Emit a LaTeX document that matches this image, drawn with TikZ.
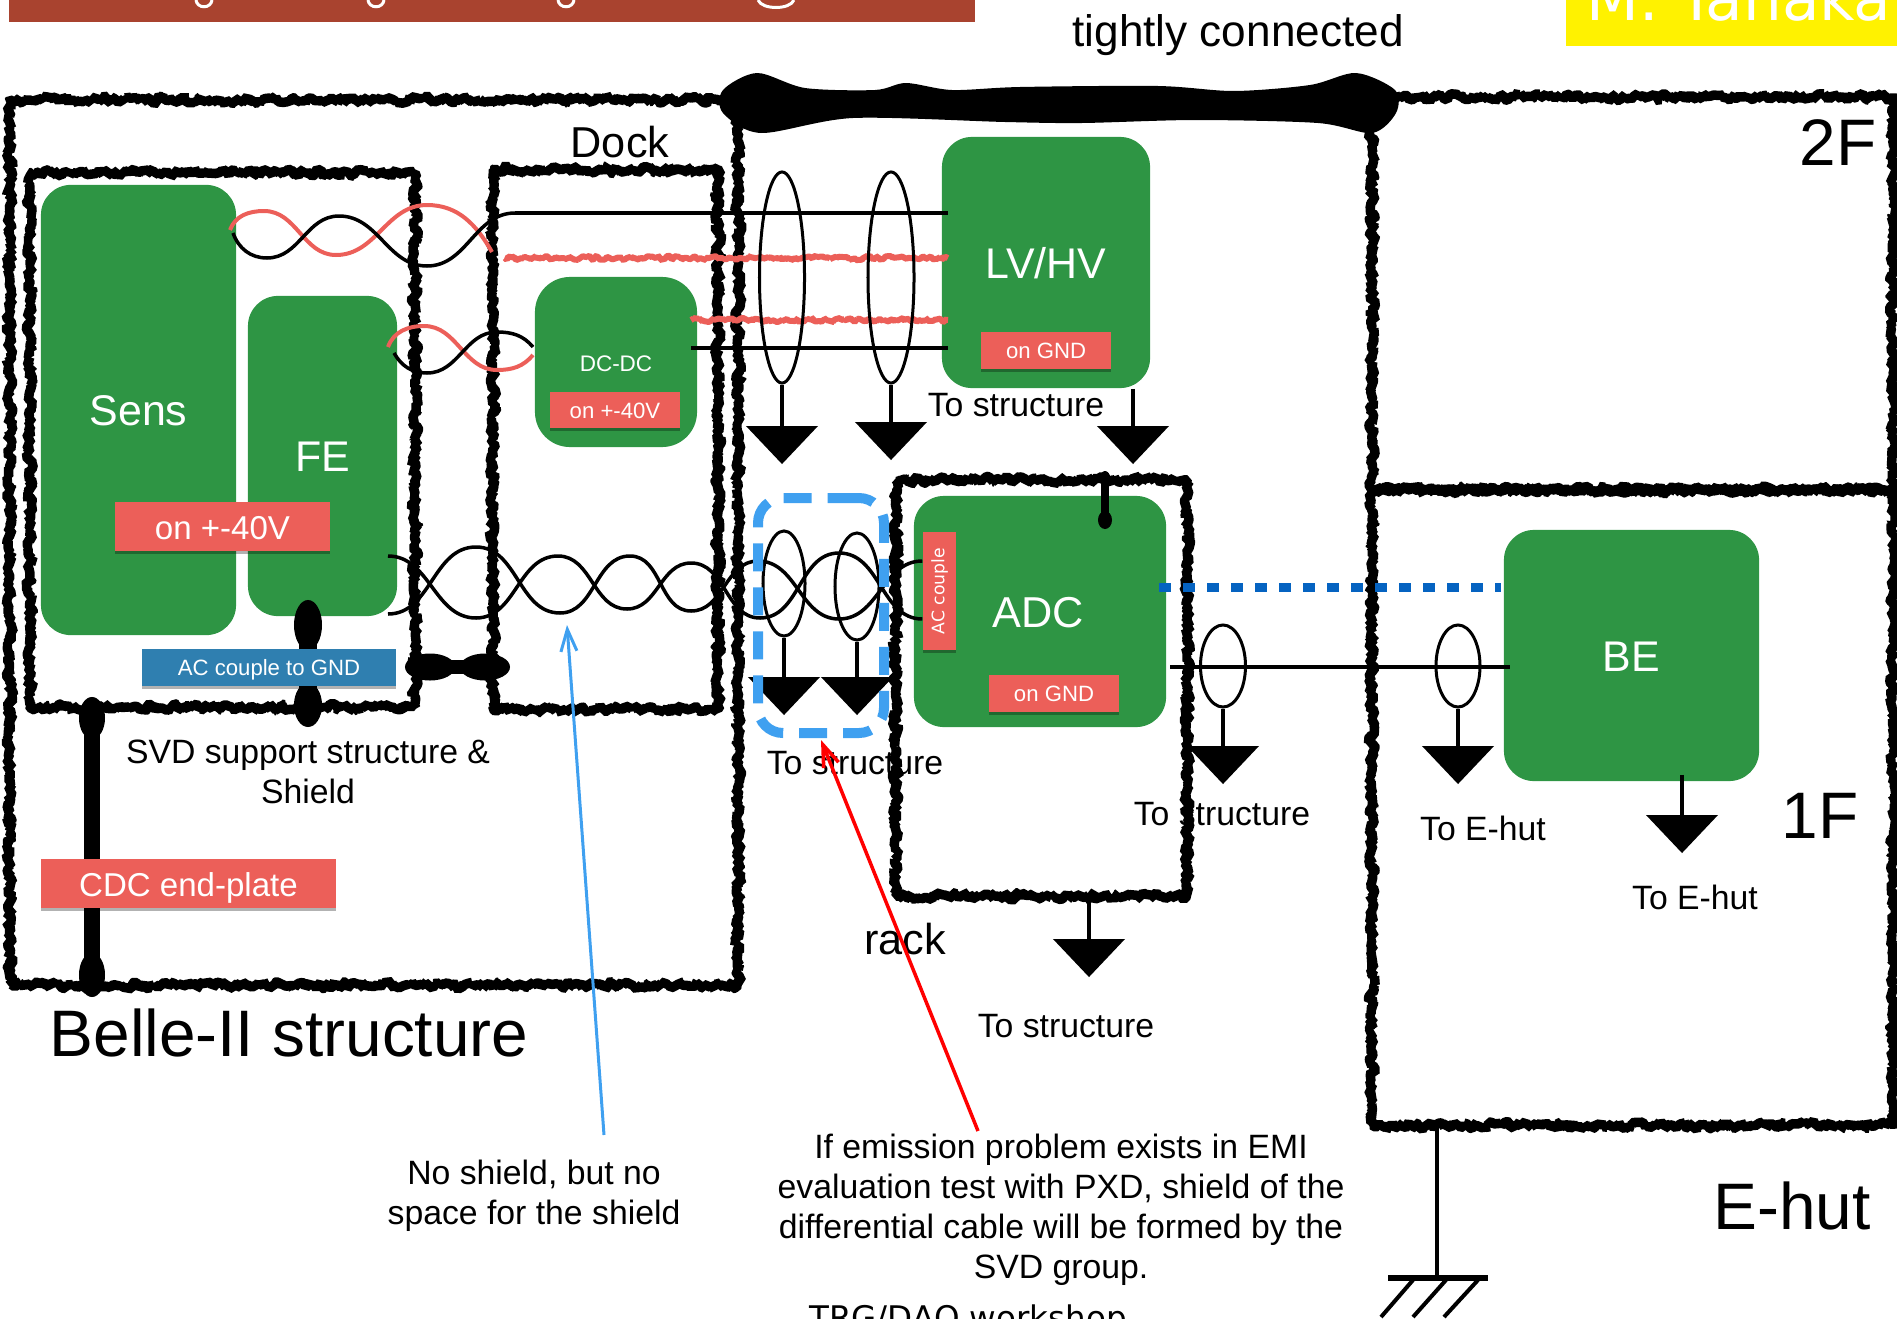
\documentclass[tikz,border=0pt]{standalone}
\usepackage{fontspec}
\setmainfont{Liberation Sans}
\newfontfamily\djv{DejaVu Sans}
\usetikzlibrary{arrows.meta,shapes.geometric,decorations.pathmorphing,shadows}
\definecolor{grnc}{HTML}{2E9544}
\definecolor{tagc}{HTML}{EC5F59}
\definecolor{blc}{HTML}{2F7FB0}
\definecolor{skyc}{HTML}{3FA0F0}
\definecolor{dotc}{HTML}{0563C1}
\definecolor{barc}{HTML}{A9432F}
\tikzset{
  grn/.style={rectangle,rounded corners=3mm,fill=grnc,text=white,inner sep=0pt,font=\fontsize{12.2}{14}\selectfont,text height=9pt,text depth=0pt},
  tag/.style={rectangle,fill=tagc,text=white,inner sep=0pt,drop shadow={shadow xshift=0mm,shadow yshift=-.3mm,fill=black,opacity=.3}},
  tagb/.style={tag,fill=blc},
  rgh/.style={rectangle,draw=black,line width=.95mm,line join=bevel,inner sep=0pt,decorate,decoration={random steps,segment length=.6pt,amplitude=1pt}},
  shd/.style={ellipse,draw=black,line width=.3mm,inner sep=0pt},
  gnd/.style={isosceles triangle,isosceles triangle stretches,shape border rotate=-90,fill=black,inner sep=0pt,outer sep=0pt,minimum width=7.2mm,minimum height=3.8mm,anchor=lower side},
  wre/.style={draw=black,line width=.35mm},
  cbl/.style={draw=black,line width=.4mm},
  twk/.style={draw=black,line width=.35mm},
  twr/.style={draw=tagc,line width=.4mm},
  nsy/.style={draw=tagc,line width=.6mm,line join=bevel,decorate,decoration={random steps,segment length=.6pt,amplitude=.6pt}},
  bulb/.style={ellipse,fill=black,inner sep=0pt,outer sep=0pt},
  strap/.style={draw=black},
  hatch/.style={draw=black,line width=.4mm},
  lb/.style={font=\fontsize{9.6}{11.4}\selectfont,align=center,inner sep=0pt},
  lbm/.style={font=\fontsize{12.3}{14}\selectfont,inner sep=0pt},
  lbl/.style={font=\fontsize{18.7}{20}\selectfont,inner sep=0pt},
  lbs/.style={font=\fontsize{6.3}{8}\selectfont,text height=4.6pt,text depth=0pt},
  lbt/.style={font=\fontsize{9.4}{11}\selectfont,text height=7.6pt,text depth=0pt},
}
\begin{document}
\begin{tikzpicture}[x=.01cm,y=-.01cm]
\useasboundingbox (0,0) rectangle (1897,1318);
\clip (0,0) rectangle (1897,1318);
\pgfmathsetseed{7}
% ---- cropped header bars
\fill[barc] (9,0) rectangle (975,22);
\draw[white,line width=.3mm] (196,0) .. controls (197,9) and (211,9) .. (212,0)
  (368,0) .. controls (369,9) and (383,9) .. (384,0)
  (558,0) .. controls (559,9) and (573,9) .. (574,0)
  (758,0) .. controls (762,10) and (790,10) .. (794,0);
\fill[yellow] (1566,0) rectangle (1897,46);
\node[anchor=base west,inner sep=0pt,text=white,font=\djv\fontsize{17.4}{19}\selectfont] (auth) at (1586,20) {M. Tanaka};
% ---- structures
\node[rgh,minimum width=72.8cm/10,minimum height=88.5cm/10] (belle) at (374,542.5) {};
\node[rgh,minimum width=38.5cm/10,minimum height=53.4cm/10] (svd) at (222.5,440) {};
\node[rgh,minimum width=22.5cm/10,minimum height=53.9cm/10] (dock) at (605.5,439.5) {};
\node[rgh,minimum width=29.1cm/10,minimum height=41.6cm/10] (rack) at (1041.5,688) {};
\node[rgh,minimum width=52.1cm/10,minimum height=39.3cm/10] (ftwo) at (1632.5,293.5) {};
\node[rgh,minimum width=52.1cm/10,minimum height=63.5cm/10] (fone) at (1632.5,807.5) {};
\fill plot[smooth cycle,tension=.5] coordinates {(757,73) (805,88) (875,90) (906,83) (952,90)
  (1020,87) (1158,86) (1234,91) (1310,85) (1356,73) (1395,90) (1396,113) (1372,133) (1318,123)
  (1196,120) (1082,123) (1005,122) (853,118) (761,133) (723,113) (723,90)};
% ---- straps under the boards
\node[bulb,minimum width=2.6mm,minimum height=4.2mm] (cdca) at (92,718) {};
\node[bulb,minimum width=2.6mm,minimum height=4.4mm] (cdcb) at (92,975) {};
\draw[strap,line width=1.5mm] (cdca.center)--(cdcb.center);
\node[bulb,minimum width=5mm,minimum height=2.7mm] (lnka) at (430,667) {};
\node[bulb,minimum width=5mm,minimum height=2.7mm] (lnkb) at (485,667) {};
\draw[strap,line width=1.4mm] (lnka.center)--(lnkb.center);
% ---- boards
\node[grn,minimum width=19.5mm,minimum height=45mm] (sens) at (138.5,410) {Sens};
\node[grn,minimum width=14.9mm,minimum height=32mm] (fe) at (322.5,456) {FE};
\node[grn,rounded corners=3.5mm,minimum width=16.2mm,minimum height=17mm,font=\fontsize{6.4}{8}\selectfont,text height=5.6pt] (dcdc) at (616,362) {DC-DC};
\node[grn,minimum width=20.8mm,minimum height=25.1mm] (lvhv) at (1046,262.5) {LV/HV};
\node[grn,minimum width=25.2mm,minimum height=23.1mm] (adc) at (1040,611.5) {};
\node[lbm,text=white,text height=9pt,text depth=0pt] (adclb) at (1038,612) {ADC};
\node[grn,minimum width=25.5mm,minimum height=25.1mm] (be) at (1631.5,655.5) {BE};
% ---- strap on the fe board
\node[bulb,minimum width=2.8mm,minimum height=5mm] (fea) at (308,625) {};
\node[bulb,minimum width=2.8mm,minimum height=4.4mm] (feb) at (308,705) {};
\draw[strap,line width=1.8mm] (fea.center)--(feb.center);
% ---- tags
\node[tag,minimum width=21.5mm,minimum height=4.9mm,lbt] (tgsens) at (222.5,526.5) {on +-40V};
\node[tag,minimum width=13mm,minimum height=3.6mm,lbs] (tgdc) at (615,410) {on +-40V};
\node[tag,minimum width=13mm,minimum height=3.7mm,lbs] (tglv) at (1046,350.5) {on GND};
\node[tag,minimum width=13mm,minimum height=3.7mm,lbs] (tgadc) at (1054,693.5) {on GND};
\node[tag,rotate=90,minimum width=11.8mm,minimum height=3.3mm,font=\djv\fontsize{4.9}{6}\selectfont] (tgac) at (939.5,591) {AC couple};
\node[tag,minimum width=29.5mm,minimum height=4.9mm,lbt] (tgcdc) at (188.5,883.5) {CDC end-plate};
\node[tagb,minimum width=25.4mm,minimum height=3.7mm,lbs] (tgac2) at (269,667.5) {AC couple to GND};
% ---- adc strap
\node[bulb,minimum width=1mm,minimum height=1.4mm] (adca) at (1105,478) {};
\node[bulb,minimum width=1.4mm,minimum height=1.8mm] (adcb) at (1105,520) {};
\draw[strap,line width=.8mm] (adca.center)--(adcb.center);
% ---- twisted pairs
\draw[twr] (230,230) to[out=70,in=180] (264,211) to[out=0,in=180] (336,255) to[out=0,in=180] (427,205) to[out=0,in=120] (492,252);
\draw[twk] (233,233) to[out=-70,in=180] (267,258) to[out=0,in=180] (339,216) to[out=0,in=180] (427,266) to[out=0,in=180] (515,213);
\draw[twr] (388,347) to[out=70,in=180] (424,326) to[out=0,in=180] (497,370) to[out=0,in=-130] (533,355);
\draw[twk] (394,353) to[out=-60,in=180] (427,373) to[out=0,in=180] (497,332) to[out=0,in=130] (533,347);
\draw[twk] (388,556) to[out=0,in=180] (476,618) to[out=0,in=180] (558,556) to[out=0,in=180] (627,609) to[out=0,in=180] (691,563)
  to[out=0,in=180] (760,618) to[out=0,in=180] (839,553) to[out=0,in=180] (tgac.north |- 0,619);
\draw[twk] (388,614) to[out=0,in=180] (476,547) to[out=0,in=180] (560,613) to[out=0,in=180] (630,556) to[out=0,in=180] (691,611)
  to[out=0,in=180] (758,561) to[out=0,in=180] (839,619) to[out=0,in=180] (tgac.north |- 0,561);
% ---- cables
\coordinate (uk) at (515,213);
\coordinate (ur) at (505,258);
\coordinate (lk) at (691,348);
\coordinate (lr) at (691,320);
\draw[cbl] (uk) -- (948,213);
\draw[cbl] (lk) -- (948,348);
\draw[nsy] (ur) -- (948,258);
\draw[nsy] (lr) -- (948,320);
\coordinate (ca) at (1170,667);
\coordinate (cb) at (1510,667);
\draw[cbl] (ca) -- (cb);
\coordinate (da) at (1159,587);
\coordinate (db) at (1501,587);
\draw[draw=dotc,line width=.9mm,dash pattern=on 1.2mm off 1.2mm] (da) -- (db);
% ---- shields
\node[shd,minimum width=4.5mm,minimum height=21.1mm] (sa) at (782,277.5) {};
\node[shd,minimum width=4.6mm,minimum height=21.1mm] (sb) at (891,277.5) {};
\node[shd,minimum width=4.2mm,minimum height=10.5mm] (sc) at (784,583.5) {};
\node[shd,minimum width=4.4mm,minimum height=10.7mm] (sd) at (857,586.5) {};
\node[shd,minimum width=4.5mm,minimum height=8.2mm] (se) at (1223,666) {};
\node[shd,minimum width=4.4mm,minimum height=8.2mm] (sf) at (1458,666) {};
% ---- grounds
\node[gnd] (ga) at (782,426) {};
\node[gnd] (gb) at (891,422) {};
\node[gnd] (gc) at (1133,426) {};
\node[gnd] (gd) at (784,677) {};
\node[gnd] (ge) at (857,677) {};
\node[gnd] (gf) at (1223,746) {};
\node[gnd] (gg) at (1458,746) {};
\node[gnd] (gh) at (1682,815) {};
\node[gnd] (gi) at (1089,939) {};
\draw[wre] (sa.south) -- (ga.lower side);
\draw[wre] (sb.south) -- (gb.lower side);
\draw[wre] (lvhv.south -| gc.lower side) -- (gc.lower side);
\draw[wre] (sc.south) -- (gd.lower side);
\draw[wre] (sd.south) -- (ge.lower side);
\draw[wre] (se.south) -- (gf.lower side);
\draw[wre] (sf.south) -- (gg.lower side);
\draw[wre] (be.south -| gh.lower side) ++(0,-7) -- (gh.lower side);
\draw[wre] (rack.south -| gi.lower side) -- (gi.lower side);
% ---- shield proposal
\draw[draw=skyc,line width=1mm,rounded corners=2.5mm,dash pattern=on 2.8mm off 1.6mm] (821,498) -- (884,498) -- (884,733) -- (758,733) -- (758,498) -- cycle;
% ---- earth
\coordinate (ea) at (1437,1125);
\coordinate (eb) at (1437,1278);
\draw[wre] (ea) -- (eb);
\coordinate (ec) at (1388,1278);
\coordinate (ed) at (1488,1278);
\draw[draw=black,line width=.6mm] (ec) -- (ed);
\draw[hatch] (1413,1280) -- (1381,1317) (1446,1280) -- (1413,1317) (1478,1280) -- (1444,1317);
% ---- labels
\node[lbm,font=\fontsize{12.55}{14}\selectfont] (lbtight) at (1238,35) {tightly connected};
\node[lbm] (lbdock) at (620,142) {Dock};
\node[lbm] (lbrack) at (905,939) {rack};
\node[lbl] (lbtwo) at (1838,143) {2F};
\node[lbl] (lbone) at (1820,816) {1F};
\node[lbl] (lbhut) at (1792,1206) {E-hut};
\node[lbl] (lbbel) at (289,1033) {Belle-II structure};
\node[lb] (lbsa) at (1016,405) {To structure};
\node[lb] (lbsb) at (855,763) {To structure};
\node[lb] (lbsc) at (1222,814) {To structure};
\node[lb] (lbsd) at (1066,1026) {To structure};
\node[lb] (lbha) at (1483,828) {To E-hut};
\node[lb] (lbhb) at (1695,897) {To E-hut};
\node[lb] (lbsvd) at (308,772) {SVD support structure \&\\Shield};
\node[lb] (lbno) at (534,1196) {No shield, but no\\space for the shield};
\node[lb] (lbif) at (1061,1210) {If emission problem exists in EMI\\evaluation test with PXD, shield of the\\differential cable will be formed by the\\SVD group.};
\node[anchor=base,inner sep=0pt,font=\djv\fontsize{9.25}{11}\selectfont] (lbft) at (968,1329) {TRG/DAQ workshop};
% ---- notes
\coordinate (na) at (604,1135);
\coordinate (nb) at (567,625);
\draw[draw=skyc,line width=.3mm,-{Straight Barb[length=2.2mm,width=1.6mm]}] (na) -- (nb);
\coordinate (nc) at (978,1131);
\coordinate (nd) at (821,740);
\draw[draw=red,line width=.35mm,-{Straight Barb[length=2.2mm,width=1.6mm]}] (nc) -- (nd);
\end{tikzpicture}
\end{document}
